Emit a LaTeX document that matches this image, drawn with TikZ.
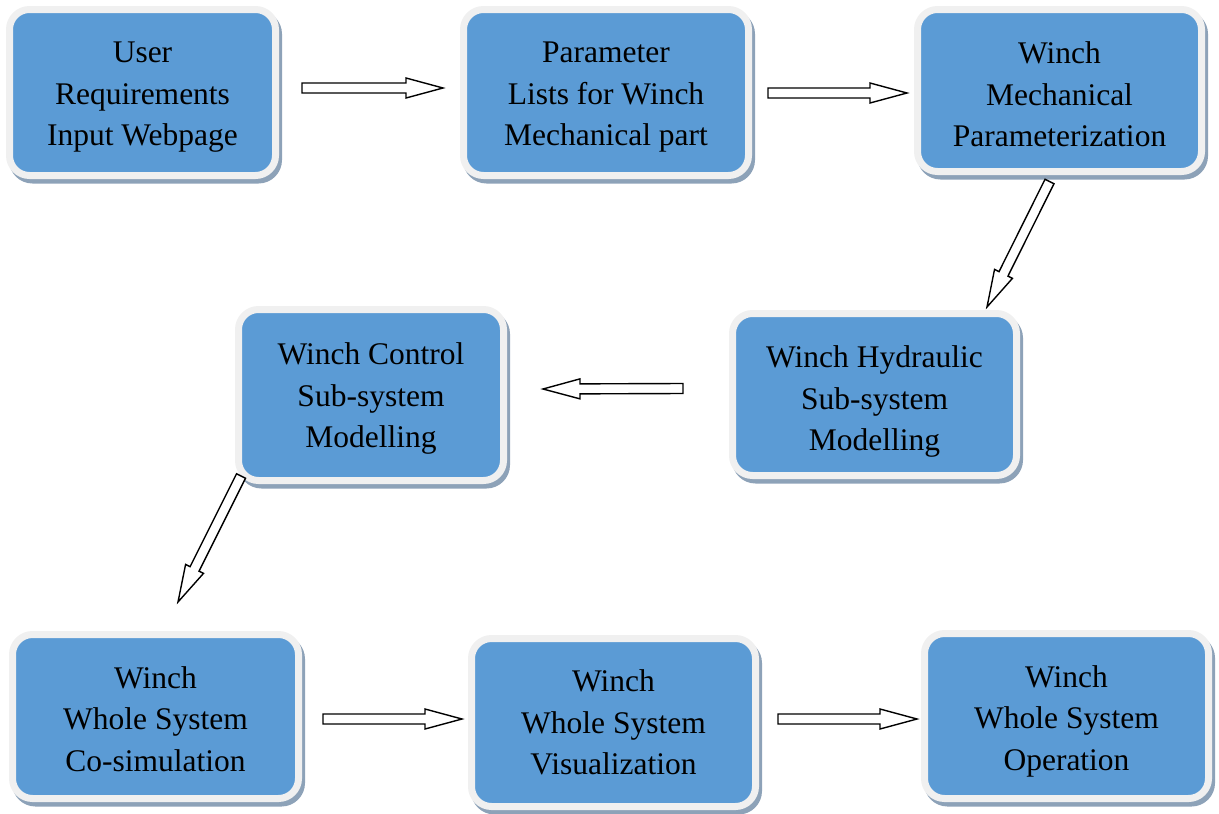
\documentclass[tikz,border=0pt]{standalone}
\usepackage{fontspec}
\setmainfont{Liberation Serif}
\usetikzlibrary{shadows,calc}

\definecolor{boxblue}{RGB}{91,155,213}
\definecolor{rimgray}{RGB}{240,240,240}
\definecolor{shadowgray}{RGB}{141,162,184}

\tikzset{
  stagebox/.style={
    draw=rimgray, line width=7pt, fill=boxblue, rounded corners=20pt,
    inner sep=0pt,
    drop shadow={shadow xshift=3pt, shadow yshift=-4.5pt,
      fill=shadowgray, draw=shadowgray, line width=7pt, opacity=1}},
  stagetext/.style={align=center, inner sep=0pt, text=black,
    font=\fontsize{31.5}{41.5}\selectfont},
  hollowarrow/.style={draw=black, line width=1.4pt, fill=white, line join=miter},
}

% outlined block arrow from coordinate #1 to coordinate #2
\newcommand{\blockarrow}[2]{%
  \coordinate (hb) at ($(#2)!37pt!(#1)$);
  \draw[hollowarrow]
    ($(#1)!5pt!90:(#2)$) -- ($(hb)!5pt!90:(#2)$) -- ($(hb)!10pt!90:(#2)$)
    -- (#2)
    -- ($(hb)!10pt!-90:(#2)$) -- ($(hb)!5pt!-90:(#2)$) -- ($(#1)!5pt!-90:(#2)$)
    -- cycle;
}

\begin{document}
\begin{tikzpicture}[x=1pt,y=-1pt]
\useasboundingbox (0,0) rectangle (1219,814);

% process stages
\node[stagebox, minimum width=266pt, minimum height=166pt] (req)   at (142.5,92.5) {};
\node[stagebox, minimum width=285pt, minimum height=166pt] (par)   at (606,92.5) {};
\node[stagebox, minimum width=284pt, minimum height=162pt] (mech)  at (1059.5,90.5) {};
\node[stagebox, minimum width=284pt, minimum height=162pt] (hyd)   at (874.5,394.5) {};
\node[stagebox, minimum width=265pt, minimum height=171pt] (ctrl)  at (371,395) {};
\node[stagebox, minimum width=286pt, minimum height=164pt] (cosim) at (155.5,716.5) {};
\node[stagebox, minimum width=284pt, minimum height=168pt] (vis)   at (613.5,722.5) {};
\node[stagebox, minimum width=284pt, minimum height=165pt] (oper)  at (1066.5,716) {};

% stage captions
\node[stagetext] (req-t)   at ($(req.center)+(0,5)$)   {User\\Requirements\\Input Webpage};
\node[stagetext] (par-t)   at ($(par.center)+(0,5)$)   {Parameter\\Lists for Winch\\Mechanical part};
\node[stagetext] (mech-t)  at ($(mech.center)+(0,4)$)  {Winch\\Mechanical\\Parameterization};
\node[stagetext] (hyd-t)   at ($(hyd.center)+(0,7)$)   {Winch Hydraulic\\Sub-system\\Modelling};
\node[stagetext] (ctrl-t)  at ($(ctrl.center)+(0,3.5)$) {Winch Control\\Sub-system\\Modelling};
\node[stagetext] (cosim-t) at ($(cosim.center)+(0,2.5)$) {Winch\\Whole System\\Co-simulation};
\node[stagetext] (vis-t)   at ($(vis.center)+(0,0)$)   {Winch\\Whole System\\Visualization};
\node[stagetext] (oper-t)  at ($(oper.center)+(0,5)$)  {Winch\\Whole System\\Operation};

% arrow ends
\coordinate (a1s) at (302,88);    \coordinate (a1e) at (443,88);
\coordinate (a2s) at (768,93);    \coordinate (a2e) at (907,93);
\coordinate (a3s) at (1049.5,181.5); \coordinate (a3e) at (987,307);
\coordinate (a4s) at (683,388.5); \coordinate (a4e) at (543,389);
\coordinate (a5s) at (241,476);   \coordinate (a5e) at (178,602);
\coordinate (a6s) at (323,719);   \coordinate (a6e) at (462,719);
\coordinate (a7s) at (778,719);   \coordinate (a7e) at (917,719);

% flow arrows
\blockarrow{a1s}{a1e}
\blockarrow{a2s}{a2e}
\blockarrow{a3s}{a3e}
\blockarrow{a4s}{a4e}
\blockarrow{a5s}{a5e}
\blockarrow{a6s}{a6e}
\blockarrow{a7s}{a7e}
\end{tikzpicture}
\end{document}
